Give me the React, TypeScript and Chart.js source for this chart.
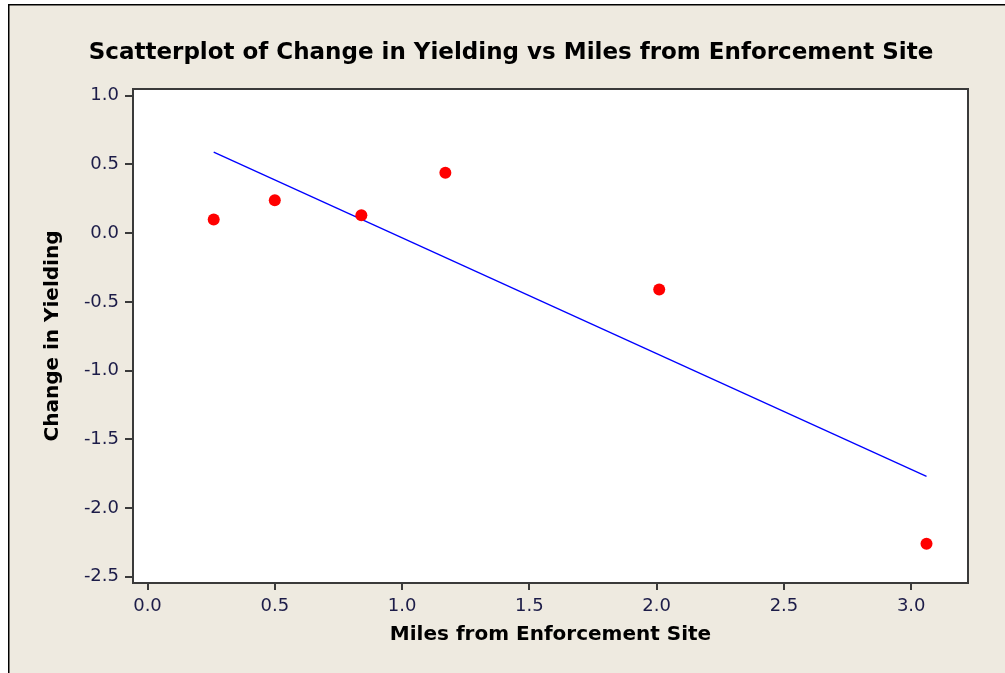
import React, { useEffect, useRef } from "react";
import { Chart, registerables } from "chart.js";

Chart.register(...registerables);

// ---- data ----
const CHART_TITLE = "Scatterplot of Change in Yielding vs Miles from Enforcement Site";
const X_TITLE = "Miles from Enforcement Site";
const Y_TITLE = "Change in Yielding";

const milesFromSite = [0.26, 0.5, 0.84, 1.17, 2.01, 3.06];
const changeInYielding = [0.1, 0.24, 0.13, 0.44, -0.41, -2.26];

const fitLineX = [0.26, 3.06];
const fitLineY = [0.59, -1.77];

const xTickValues = [0, 0.5, 1, 1.5, 2, 2.5, 3];
const yTickValues = [1, 0.5, 0, -0.5, -1, -1.5, -2, -2.5];

const X_RANGE = [-0.057, 3.223];
const Y_RANGE = [-2.546, 1.049];

// ---- styling ----
const W = 1005;
const H = 673;
const BG = "#EEEAE0";
const FONT = "'DejaVu Sans', Verdana, sans-serif";
const TICK_COLOR = "#1c1c48";
const FRAME_COLOR = "#3a3a3a";

const framePlugin = {
  id: "minitabFrame",
  beforeDraw(chart: any) {
    const { ctx, chartArea } = chart;
    ctx.save();
    ctx.fillStyle = "#ffffff";
    ctx.fillRect(0, 0, W, H);
    ctx.fillStyle = BG;
    ctx.fillRect(8, 4, W - 8, H - 4);
    ctx.strokeStyle = "#000000";
    ctx.lineWidth = 1.5;
    ctx.beginPath();
    ctx.moveTo(8.75, H);
    ctx.lineTo(8.75, 4.75);
    ctx.lineTo(W, 4.75);
    ctx.stroke();
    ctx.fillStyle = "#ffffff";
    ctx.fillRect(chartArea.left, chartArea.top, chartArea.right - chartArea.left, chartArea.bottom - chartArea.top);
    // title
    ctx.fillStyle = "#000000";
    ctx.font = `bold 23px ${FONT}`;
    ctx.textAlign = "center";
    ctx.textBaseline = "middle";
    ctx.fillText(CHART_TITLE, 511, 53);
    ctx.restore();
  },
  afterDraw(chart: any) {
    const { ctx, chartArea } = chart;
    ctx.save();
    ctx.strokeStyle = FRAME_COLOR;
    ctx.lineWidth = 2;
    ctx.strokeRect(chartArea.left, chartArea.top, chartArea.right - chartArea.left, chartArea.bottom - chartArea.top);
    ctx.restore();
  },
};

export default function App() {
  const ref = useRef<HTMLCanvasElement | null>(null);

  useEffect(() => {
    if (!ref.current) return;
    const chart = new Chart(ref.current, {
      type: "scatter",
      data: {
        datasets: [
          {
            label: "Observed",
            data: milesFromSite.map((x, i) => ({ x, y: changeInYielding[i] })),
            backgroundColor: "#ff0000",
            borderColor: "#ff0000",
            pointRadius: 6,
            pointBorderWidth: 0,
            order: 0,
          },
          {
            label: "Fit",
            data: fitLineX.map((x, i) => ({ x, y: fitLineY[i] })),
            showLine: true,
            borderColor: "#0000ff",
            borderWidth: 1.3,
            pointRadius: 0,
            order: 1,
          } as any,
        ],
      },
      options: {
        responsive: false,
        animation: false,
        layout: { padding: { top: 89, right: 37, bottom: 0, left: 0 } },
        plugins: {
          legend: { display: false },
          title: { display: false },
          tooltip: { enabled: false },
        },
        scales: {
          x: {
            type: "linear",
            min: X_RANGE[0],
            max: X_RANGE[1],
            afterBuildTicks: (axis: any) => {
              axis.ticks = xTickValues.map((v) => ({ value: v }));
            },
            afterFit: (axis: any) => {
              axis.height = 90;
            },
            grid: {
              display: true,
              drawOnChartArea: false,
              drawTicks: true,
              tickLength: 7,
              color: FRAME_COLOR,
              lineWidth: 2,
            },
            border: { display: false },
            ticks: {
              padding: 6,
              color: TICK_COLOR,
              font: { family: FONT, size: 18 },
              maxRotation: 0,
              autoSkip: false,
              callback: (v: any) => Number(v).toFixed(1),
            },
            title: {
              display: true,
              text: X_TITLE,
              color: "#000000",
              font: { family: FONT, size: 20, weight: "bold" },
              padding: { top: 0, bottom: 26 },
            },
          },
          y: {
            type: "linear",
            min: Y_RANGE[0],
            max: Y_RANGE[1],
            afterBuildTicks: (axis: any) => {
              axis.ticks = yTickValues.map((v) => ({ value: v }));
            },
            afterFit: (axis: any) => {
              axis.width = 133;
            },
            grid: {
              display: true,
              drawOnChartArea: false,
              drawTicks: true,
              tickLength: 8,
              color: FRAME_COLOR,
              lineWidth: 2,
            },
            border: { display: false },
            ticks: {
              padding: 6,
              color: TICK_COLOR,
              font: { family: FONT, size: 18 },
              autoSkip: false,
              callback: (v: any) => Number(v).toFixed(1),
            },
            title: {
              display: true,
              text: Y_TITLE,
              color: "#000000",
              font: { family: FONT, size: 20, weight: "bold" },
              padding: { top: 41, bottom: 0 },
            },
          },
        },
      },
      plugins: [framePlugin],
    } as any);
    return () => chart.destroy();
  }, []);

  return (
    <div style={{ position: "fixed", left: 0, top: 0, width: W, height: H }}>
      <canvas ref={ref} width={W} height={H} style={{ display: "block", width: W, height: H }} />
    </div>
  );
}
